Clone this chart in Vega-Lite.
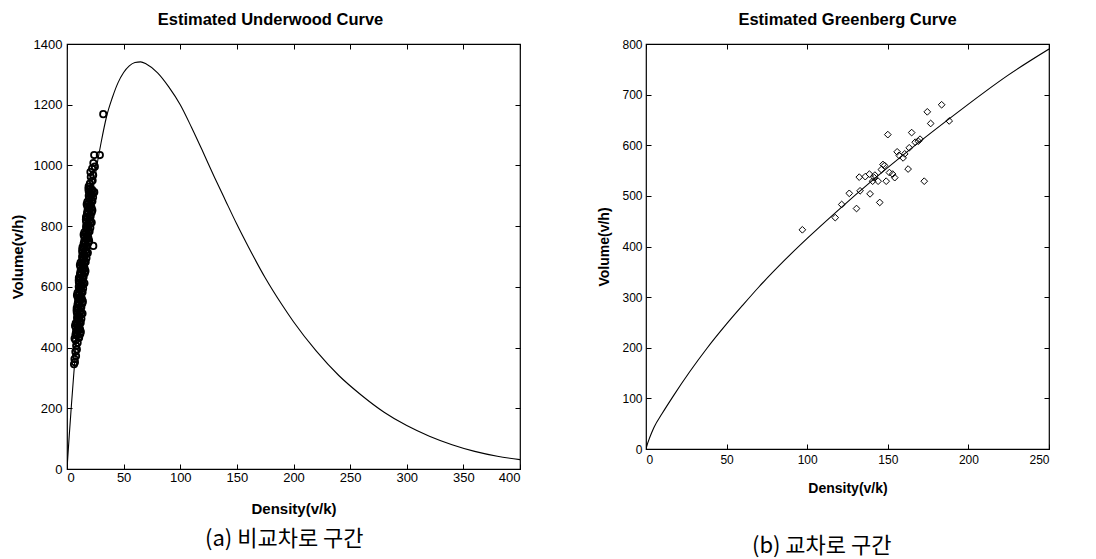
{
  "$schema": "https://vega.github.io/schema/vega-lite/v6.json",
  "padding": {"left": 9, "top": 10, "right": 5, "bottom": 3},
  "background": "white",
  "config": {
    "view": {"stroke": "black", "strokeWidth": 1.2},
    "axis": {"grid": false, "domain": false, "tickColor": "black", "tickSize": -5, "tickWidth": 1, "labelColor": "black", "labelFont": "Liberation Sans", "labelFontSize": 13, "titleFont": "Liberation Sans", "titleFontWeight": "bold", "titleFontSize": 15, "titleColor": "black", "format": "d"},
    "title": {"font": "Liberation Sans", "fontWeight": "bold", "fontSize": 16.5, "color": "black"},
    "concat": {"spacing": 75}
  },
  "datasets": {
    "uw_curve": [
      {"k":0,"q":0},{"k":2,"q":111},{"k":4,"q":216},{"k":6,"q":314},{"k":8,"q":406},{"k":10,"q":492},{"k":12,"q":570},{"k":15,"q":684},{"k":20,"q":838},{"k":25,"q":968},{"k":30,"q":1073},{"k":35,"q":1162},{"k":40,"q":1223},{"k":45,"q":1272},{"k":50,"q":1306},{"k":55,"q":1328},{"k":60,"q":1339},{"k":65,"q":1341},{"k":70,"q":1334},{"k":80,"q":1305},{"k":90,"q":1258},{"k":100,"q":1200},{"k":110,"q":1125},{"k":120,"q":1045},{"k":130,"q":963},{"k":140,"q":884},{"k":150,"q":806},{"k":160,"q":733},{"k":175,"q":630},{"k":190,"q":540},{"k":200,"q":485},{"k":220,"q":389},{"k":240,"q":308},{"k":260,"q":243},{"k":280,"q":187},{"k":300,"q":143},{"k":320,"q":108},{"k":340,"q":80},{"k":360,"q":58},{"k":380,"q":42},{"k":400,"q":31}
    ],
    "uw_pts": [
      {"k":6.2,"q":345},{"k":7.0,"q":352},{"k":6.6,"q":362},{"k":8.0,"q":372},{"k":7.4,"q":386},{"k":8.7,"q":394},{"k":8.1,"q":406},{"k":9.4,"q":416},{"k":7.6,"q":424},
      {"k":6.7,"q":430},{"k":10.3,"q":435},{"k":8.8,"q":440},{"k":11.7,"q":445},{"k":7.9,"q":450},{"k":10.0,"q":455},{"k":11.5,"q":460},{"k":7.8,"q":465},{"k":10.8,"q":470},{"k":9.0,"q":475},
      {"k":7.7,"q":480},{"k":11.3,"q":485},{"k":9.8,"q":490},{"k":12.7,"q":495},{"k":8.9,"q":500},{"k":11.0,"q":505},{"k":12.5,"q":510},{"k":8.7,"q":515},{"k":11.7,"q":520},{"k":9.9,"q":525},
      {"k":8.6,"q":530},{"k":12.1,"q":535},{"k":10.6,"q":540},{"k":13.5,"q":545},{"k":9.7,"q":550},{"k":11.7,"q":555},{"k":13.2,"q":560},{"k":9.5,"q":565},{"k":12.5,"q":570},{"k":10.6,"q":575},
      {"k":9.3,"q":580},{"k":12.9,"q":585},{"k":11.4,"q":590},{"k":14.2,"q":595},{"k":10.4,"q":600},{"k":12.6,"q":605},{"k":14.1,"q":610},{"k":10.5,"q":615},{"k":13.5,"q":620},{"k":11.8,"q":625},
      {"k":10.5,"q":630},{"k":14.2,"q":635},{"k":12.7,"q":640},{"k":15.7,"q":645},{"k":11.9,"q":650},{"k":14.1,"q":655},{"k":15.6,"q":660},{"k":12.0,"q":665},{"k":15.0,"q":670},{"k":13.3,"q":675},
      {"k":12.0,"q":680},{"k":15.7,"q":685},{"k":14.2,"q":690},{"k":17.2,"q":695},{"k":13.4,"q":700},{"k":15.6,"q":705},{"k":17.2,"q":710},{"k":13.5,"q":715},{"k":16.6,"q":720},{"k":14.9,"q":725},
      {"k":13.7,"q":730},{"k":17.3,"q":735},{"k":15.9,"q":740},{"k":18.9,"q":745},{"k":15.2,"q":750},{"k":17.3,"q":755},{"k":18.9,"q":760},{"k":15.3,"q":765},{"k":18.4,"q":770},{"k":16.6,"q":775},
      {"k":15.4,"q":780},{"k":19.1,"q":785},{"k":17.7,"q":790},{"k":20.6,"q":795},{"k":16.9,"q":800},{"k":19.0,"q":805},{"k":20.6,"q":810},{"k":16.9,"q":815},{"k":19.9,"q":820},{"k":18.1,"q":825},
      {"k":16.8,"q":830},{"k":20.4,"q":835},{"k":18.9,"q":840},{"k":21.8,"q":845},{"k":18.1,"q":850},{"k":20.2,"q":855},{"k":21.7,"q":860},{"k":18.0,"q":865},{"k":21.0,"q":870},{"k":19.2,"q":875},
      {"k":18.0,"q":880},{"k":21.6,"q":885},{"k":20.1,"q":890},{"k":23.0,"q":895},{"k":19.2,"q":900},{"k":21.3,"q":905},{"k":22.9,"q":910},{"k":19.2,"q":915},{"k":22.2,"q":920},{"k":20.4,"q":925},
      {"k":19.1,"q":930},
      {"k":10.7,"q":432},{"k":7.5,"q":442},{"k":12.2,"q":452},{"k":9.5,"q":462},{"k":7.1,"q":472},{"k":12.1,"q":482},{"k":9.1,"q":492},{"k":11.1,"q":502},{"k":13.7,"q":512},{"k":8.5,"q":522},
      {"k":12.6,"q":532},{"k":9.3,"q":542},{"k":14.0,"q":552},{"k":11.2,"q":562},{"k":8.8,"q":572},{"k":13.7,"q":582},{"k":10.7,"q":592},{"k":12.7,"q":602},{"k":15.4,"q":612},{"k":10.4,"q":622},
      {"k":14.6,"q":632},{"k":11.5,"q":642},{"k":16.3,"q":652},{"k":13.7,"q":662},{"k":11.4,"q":672},{"k":16.5,"q":682},{"k":13.6,"q":692},{"k":15.7,"q":702},{"k":18.4,"q":712},{"k":13.5,"q":722},
      {"k":17.7,"q":732},{"k":14.7,"q":742},{"k":19.5,"q":752},{"k":17.0,"q":762},{"k":14.7,"q":772},{"k":19.9,"q":782},{"k":17.0,"q":792},{"k":19.2,"q":802},{"k":21.8,"q":812},{"k":16.7,"q":822},
      {"k":20.8,"q":832},{"k":17.7,"q":842},{"k":22.4,"q":852},{"k":19.7,"q":862},{"k":17.4,"q":872},{"k":22.4,"q":882},{"k":19.4,"q":892},{"k":21.5,"q":902},{"k":24.1,"q":912},{"k":19.0,"q":922},
      {"k":20.2,"q":940},{"k":22.6,"q":950},{"k":21.0,"q":962},{"k":23.1,"q":968},{"k":20.7,"q":978},{"k":22.2,"q":990},{"k":24.6,"q":996},{"k":23.3,"q":1008},{"k":24.0,"q":1034},{"k":29.0,"q":1034},{"k":32.0,"q":1169},{"k":23.2,"q":735}
    ],
    "gb_curve": [
      {"k":0,"q":0},{"k":1,"q":11},{"k":2,"q":20},{"k":3.5,"q":32},{"k":5,"q":43},{"k":10,"q":70},{"k":17,"q":105},{"k":27,"q":152},{"k":37.6,"q":198},{"k":50,"q":247},{"k":60,"q":284},{"k":70,"q":320},{"k":86,"q":373},{"k":100,"q":416},{"k":120,"q":474},{"k":141,"q":532},{"k":160,"q":582},{"k":188,"q":652},{"k":210,"q":705},{"k":224,"q":737},{"k":250,"q":790}
    ],
    "gb_pts": [
      {"k":97,"q":433},{"k":117.4,"q":457},{"k":121.4,"q":483},{"k":126.1,"q":505},{"k":130.6,"q":475},{"k":132.3,"q":537},{"k":132.8,"q":510},{"k":138.6,"q":543},{"k":139,"q":504},{"k":140.6,"q":529},{"k":141.6,"q":536},{"k":144,"q":529},{"k":145,"q":487},{"k":147,"q":562},{"k":149,"q":529},{"k":150,"q":621},{"k":153,"q":543},{"k":154.3,"q":536},{"k":155.8,"q":587},{"k":159.5,"q":575},{"k":162.6,"q":553},{"k":163.3,"q":595},{"k":164.8,"q":625},{"k":168.9,"q":608},{"k":172.6,"q":529},{"k":174.5,"q":666},{"k":176.6,"q":643},{"k":183.4,"q":680},{"k":188.1,"q":648},
      {"k":142,"q":541},{"k":146,"q":552},{"k":151,"q":546},{"k":157,"q":580},{"k":160.5,"q":583},{"k":167,"q":606},{"k":170,"q":612},{"k":136,"q":538},{"k":148,"q":560}
    ]
  },
  "hconcat": [
    {
      "title": {"text": "(a)  비교차로 구간", "orient": "bottom", "anchor": "middle", "font": "Noto Sans CJK KR", "fontWeight": "normal", "fontSize": 22, "offset": 12, "dx": 19},
      "hconcat": [
        {
          "title": {"text": "Estimated Underwood Curve", "offset": 10, "anchor": "middle", "dx": -23},
          "width": 453,
          "height": 425,
          "layer": [
            {
              "data": {"name": "uw_curve"},
              "mark": {"type": "line", "color": "black", "strokeWidth": 1.1, "clip": true, "interpolate": "monotone"},
              "encoding": {
                "x": {"field": "k", "type": "quantitative", "scale": {"domain": [0, 400], "nice": false, "zero": false},
                      "axis": {"values": [0,50,100,150,200,250,300,350,400], "title": "Density(v/k)", "titlePadding": 17, "labelPadding": 7}},
                "y": {"field": "q", "type": "quantitative", "scale": {"domain": [0, 1400], "nice": false},
                      "axis": {"values": [0,200,400,600,800,1000,1200,1400], "title": "Volume(v/h)", "titlePadding": 8, "labelPadding": 10}}
              }
            },
            {
              "data": {"name": "uw_pts"},
              "mark": {"type": "point", "shape": "circle", "filled": false, "color": "black", "size": 40, "strokeWidth": 1.8, "opacity": 1},
              "encoding": {
                "x": {"field": "k", "type": "quantitative", "axis": null},
                "y": {"field": "q", "type": "quantitative", "axis": null}
              }
            },
            {
              "data": {"name": "uw_curve"},
              "mark": {"type": "line", "opacity": 0},
              "encoding": {
                "x": {"field": "k", "type": "quantitative", "axis": {"orient": "top", "values": [0,50,100,150,200,250,300,350,400], "labels": false, "title": null}},
                "y": {"field": "q", "type": "quantitative", "axis": {"orient": "right", "values": [0,200,400,600,800,1000,1200,1400], "labels": false, "title": null}}
              }
            }
          ],
          "resolve": {"axis": {"x": "independent", "y": "independent"}}
        }
      ]
    },
    {
      "title": {"text": "(b)  교차로 구간", "orient": "bottom", "anchor": "middle", "font": "Noto Sans CJK KR", "fontWeight": "normal", "fontSize": 22, "offset": 40, "dx": -2},
      "hconcat": [
        {
          "title": {"text": "Estimated Greenberg Curve", "offset": 10, "anchor": "middle"},
          "width": 403,
          "height": 405,
          "layer": [
            {
              "data": {"name": "gb_curve"},
              "mark": {"type": "line", "color": "black", "strokeWidth": 1.1, "clip": true, "interpolate": "monotone"},
              "encoding": {
                "x": {"field": "k", "type": "quantitative", "scale": {"domain": [0, 250], "nice": false, "zero": false},
                      "axis": {"values": [0,50,100,150,200,250], "title": "Density(v/k)", "titlePadding": 16, "labelFontSize": 12, "labelPadding": 10, "titleFontSize": 14}},
                "y": {"field": "q", "type": "quantitative", "scale": {"domain": [0, 800], "nice": false},
                      "axis": {"values": [0,100,200,300,400,500,600,700,800], "title": "Volume(v/h)", "titlePadding": 10, "labelFontSize": 12, "labelPadding": 9, "titleFontSize": 14}}
              }
            },
            {
              "data": {"name": "gb_pts"},
              "mark": {"type": "point", "shape": "diamond", "filled": false, "color": "black", "size": 45, "strokeWidth": 1, "opacity": 1},
              "encoding": {
                "x": {"field": "k", "type": "quantitative", "axis": null},
                "y": {"field": "q", "type": "quantitative", "axis": null}
              }
            },
            {
              "data": {"name": "gb_curve"},
              "mark": {"type": "line", "opacity": 0},
              "encoding": {
                "x": {"field": "k", "type": "quantitative", "axis": {"orient": "top", "values": [0,50,100,150,200,250], "labels": false, "title": null}},
                "y": {"field": "q", "type": "quantitative", "axis": {"orient": "right", "values": [0,100,200,300,400,500,600,700,800], "labels": false, "title": null}}
              }
            }
          ],
          "resolve": {"axis": {"x": "independent", "y": "independent"}}
        }
      ]
    }
  ]
}
